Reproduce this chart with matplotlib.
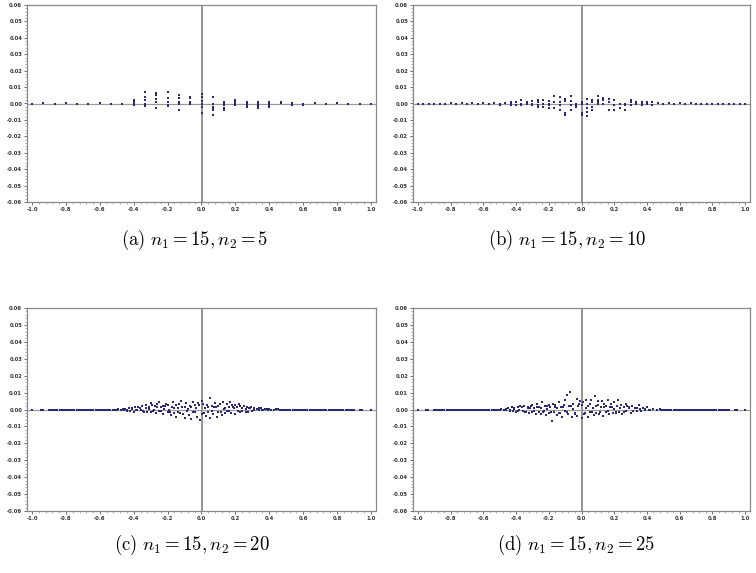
import numpy as np
import matplotlib
matplotlib.use('Agg')
import matplotlib.pyplot as plt
from matplotlib.ticker import MultipleLocator

plt.rcParams['mathtext.fontset'] = 'cm'
plt.rcParams['axes.unicode_minus'] = False

# panel (a): n1=15, n2=5
xa = [-1.0, -0.933, -0.867, -0.8, -0.733, -0.667, -0.6, -0.533, -0.467,
      -0.4, -0.4, -0.4, -0.4,
      -0.333, -0.333, -0.333, -0.333, -0.333, -0.333,
      -0.267, -0.267, -0.267, -0.267, -0.267,
      -0.2, -0.2, -0.2, -0.2, -0.2,
      -0.133, -0.133, -0.133, -0.133, -0.133,
      -0.067, -0.067, -0.067, -0.067,
      0.0, 0.0, 0.0, 0.0, 0.0, 0.0,
      0.067, 0.067, 0.067, 0.067, 0.067, 0.067,
      0.133, 0.133, 0.133, 0.133, 0.133,
      0.2, 0.2, 0.2, 0.2,
      0.267, 0.267, 0.267, 0.267,
      0.333, 0.333, 0.333, 0.333, 0.333,
      0.4, 0.4, 0.4, 0.4,
      0.467, 0.467, 0.533, 0.533, 0.6, 0.6, 0.6,
      0.667, 0.733, 0.8, 0.867, 0.933, 1.0]
ya = [0.0, 0.0003, 0.0, 0.0002, 0.0, -0.0002, 0.0002, 0.0, -0.0002,
      0.0022, 0.0012, 0.0, -0.001,
      0.0072, 0.0042, 0.0022, 0.0, -0.0008, -0.0018,
      0.0062, 0.005, 0.0028, 0.001, -0.0028,
      0.0068, 0.0032, 0.001, -0.0008, -0.0018,
      0.005, 0.0032, 0.0012, 0.0, -0.0042,
      0.0042, 0.0032, 0.0012, 0.0,
      0.0058, 0.0038, 0.0018, 0.0, -0.002, -0.0058,
      0.0042, 0.0, -0.002, -0.003, -0.004, -0.0068,
      0.0012, 0.0, -0.001, -0.0028, -0.0042,
      0.002, 0.0008, 0.0, -0.001,
      0.0012, 0.0, -0.001, -0.002,
      0.001, 0.0, -0.001, -0.002, -0.0028,
      0.001, 0.0, -0.001, -0.002,
      0.0012, 0.0002, 0.0002, -0.0008, 0.0, -0.0008, -0.0012,
      0.0003, 0.0, 0.0002, 0.0, 0.0, 0.0]

# panel (b): n1=15, n2=10
xb = [-1.0, -0.967, -0.933, -0.9, -0.867, -0.833, -0.8, -0.767, -0.733, -0.7,
      -0.667, -0.633, -0.6, -0.567, -0.533,
      -0.5, -0.5, -0.467, -0.433, -0.433, -0.433, -0.4, -0.4,
      -0.367, -0.367, -0.367, -0.333, -0.333, -0.3, -0.3, -0.3,
      -0.267, -0.267, -0.267, -0.267, -0.233, -0.233, -0.233,
      -0.2, -0.2, -0.2, -0.2, -0.167, -0.167, -0.167,
      -0.133, -0.133, -0.133, -0.133, -0.1, -0.1, -0.1, -0.1,
      -0.067, -0.067, -0.067, -0.067, -0.033, -0.033, -0.033,
      0.0, 0.0, 0.0, 0.0, 0.033, 0.033, 0.033, 0.033, 0.033,
      0.067, 0.067, 0.067, 0.067, 0.1, 0.1, 0.1, 0.1,
      0.133, 0.133, 0.133, 0.167, 0.167, 0.167, 0.2, 0.2, 0.2,
      0.233, 0.233, 0.267, 0.267, 0.267, 0.3, 0.3, 0.3,
      0.333, 0.333, 0.367, 0.367, 0.367, 0.4, 0.4, 0.433, 0.433,
      0.467, 0.5, 0.533, 0.567, 0.6, 0.633, 0.667, 0.7, 0.733, 0.767,
      0.8, 0.833, 0.867, 0.9, 0.933, 0.967, 1.0]
yb = [0.0, 0.0, 0.0, 0.0, 0.0, 0.0, 0.0002, 0.0, 0.0002, 0.0,
      0.0002, 0.0, 0.0002, 0.0, 0.0002,
      0.0, -0.001, 0.0003, 0.0012, 0.0, -0.001, 0.001, -0.001,
      0.0022, 0.0, -0.001, 0.001, 0.0, 0.0018, 0.0, -0.001,
      0.0022, 0.001, -0.001, -0.0022, 0.002, 0.0, -0.0022,
      0.0018, 0.0, -0.001, -0.0028, 0.0048, 0.001, -0.0028,
      0.0038, 0.001, -0.001, -0.0042, 0.0028, 0.0018, -0.0058, -0.0068,
      0.0048, 0.0018, -0.001, -0.0038, 0.0, -0.001, -0.002,
      0.001, 0.0, -0.0058, -0.0068, 0.003, 0.0, -0.003, -0.005, -0.0078,
      0.0022, 0.001, -0.002, -0.0038, 0.0048, 0.0022, 0.001, 0.0,
      0.0032, 0.002, 0.0, 0.0028, 0.001, -0.0038, 0.002, -0.001, -0.0038,
      0.0, -0.003, 0.0, -0.001, -0.0042, 0.0022, 0.001, -0.001,
      0.0012, 0.0, 0.0012, 0.0, -0.001, 0.001, 0.0, 0.001, -0.001,
      0.0003, 0.0, 0.0002, 0.0, 0.0002, 0.0, 0.0002, 0.0, 0.0, 0.0,
      0.0, 0.0, 0.0, 0.0, 0.0, 0.0, 0.0]

# panel (c): n1=15, n2=20
xc = [-1.0, -0.95, -0.9, -0.875, -0.85, -0.825, -0.8, -0.775, -0.75, -0.725,
      -0.7, -0.675, -0.65, -0.625, -0.6, -0.575, -0.55, -0.525, -0.5, -0.49,
      -0.475, -0.46, -0.45, -0.44, -0.425, -0.42, -0.41, -0.4, -0.39, -0.38,
      -0.375, -0.36, -0.35, -0.345, -0.33, -0.325, -0.32, -0.31, -0.3, -0.3,
      -0.29, -0.28, -0.275, -0.27, -0.26, -0.25, -0.25, -0.24, -0.23, -0.225,
      -0.22, -0.21, -0.2, -0.2, -0.19, -0.18, -0.175, -0.17, -0.16, -0.15,
      -0.15, -0.14, -0.13, -0.125, -0.12, -0.11, -0.1, -0.1, -0.09, -0.08,
      -0.075, -0.07, -0.06, -0.05, -0.05, -0.04, -0.03, -0.025, -0.02, -0.01,
      0.0, 0.0, 0.01, 0.02, 0.025, 0.03, 0.04, 0.05, 0.05, 0.06,
      0.07, 0.075, 0.08, 0.09, 0.1, 0.1, 0.11, 0.12, 0.125, 0.13,
      0.14, 0.15, 0.15, 0.16, 0.17, 0.175, 0.18, 0.19, 0.2, 0.2,
      0.21, 0.22, 0.225, 0.23, 0.24, 0.25, 0.26, 0.27, 0.275, 0.28,
      0.29, 0.3, 0.31, 0.325, 0.34, 0.35, 0.36, 0.375, 0.39, 0.4,
      0.425, 0.45, 0.475, 0.5, 0.525, 0.55, 0.575, 0.6, 0.625, 0.65,
      0.675, 0.7, 0.725, 0.75, 0.775, 0.8, 0.825, 0.85, 0.875, 0.9,
      0.95, 1.0]
yc = [0.0, 0.0, 0.0, 0.0, 0.0, 0.0, 0.0, 0.0, 0.0, 0.0,
      0.0, 0.0, 0.0, 0.0, 0.0, 0.0, 0.0, 0.0, -0.0002, 0.0003,
      0.0, -0.0005, 0.0005, -0.0003, 0.0008, -0.0008, 0.0002, -0.0012, 0.0012, 0.0,
      0.0015, -0.0005, 0.0018, -0.001, 0.0008, 0.0028, -0.0015, 0.0012, 0.0038, -0.0012,
      0.0025, 0.0, 0.0018, -0.002, 0.0032, 0.0042, -0.0008, 0.0015, -0.0028, 0.0022,
      0.0005, 0.0035, -0.0015, 0.0028, 0.0, -0.0035, 0.0015, 0.0045, -0.0022, 0.0025,
      -0.0042, 0.001, 0.0032, -0.0018, 0.0048, -0.0028, 0.0015, -0.0048, 0.0038, 0.0005,
      -0.0032, 0.0022, -0.0055, 0.0042, -0.0015, 0.0028, 0.0008, -0.0045, 0.0038, -0.0065,
      0.0048, -0.0025, 0.0035, 0.001, -0.0038, 0.0025, -0.0015, 0.0068, -0.0052, 0.0022,
      -0.0028, 0.0012, 0.0038, -0.0045, 0.0022, -0.0012, 0.0032, -0.0032, 0.0045, 0.0005,
      -0.0022, 0.0035, -0.0008, 0.0015, 0.0042, -0.0018, 0.0028, 0.0008, 0.0025, -0.0025,
      0.0012, 0.0032, -0.0012, 0.0018, -0.0008, 0.0022, 0.0005, 0.0012, -0.0015, 0.0008,
      0.0015, -0.0008, 0.0008, 0.0002, -0.0005, 0.0008, -0.0003, 0.0004, 0.0, 0.0003,
      0.0, 0.0002, 0.0, 0.0, 0.0, 0.0, 0.0, 0.0, 0.0, 0.0,
      0.0, 0.0, 0.0, 0.0, 0.0, 0.0, 0.0, 0.0, 0.0, 0.0,
      0.0, 0.0]
# extra near-zero band points in (c)
xc2 = [-0.9375, -0.8875, -0.8625, -0.8375, -0.8125, -0.7875, -0.7625, -0.7375,
       -0.7125, -0.6875, -0.6625, -0.6375, -0.6125, -0.5875, -0.5625, -0.5375,
       -0.5125, -0.4625, -0.4375, -0.4125, -0.3875, -0.3625, -0.3375, -0.3125,
       -0.2875, -0.2625, -0.2375, -0.2125, -0.1875, -0.1625, -0.1375, -0.1125,
       -0.0875, -0.0625, -0.0375, -0.0125, 0.0125, 0.0375, 0.0625, 0.0875,
       0.1125, 0.1375, 0.1625, 0.1875, 0.2125, 0.2375, 0.2625, 0.2875, 0.3125,
       0.3375, 0.3625, 0.3875, 0.4125, 0.4375, 0.4625, 0.4875, 0.5125, 0.5375,
       0.5625, 0.5875, 0.6125, 0.6375, 0.6625, 0.6875, 0.7125, 0.7375, 0.7625,
       0.7875, 0.8125, 0.8375, 0.8625, 0.8875, 0.9375]
yc2 = [0.0, 0.0, 0.0, 0.0, 0.0, 0.0, 0.0, 0.0,
       0.0, 0.0, 0.0, 0.0, 0.0, 0.0, 0.0, 0.0,
       -0.0003, 0.0004, -0.0006, 0.0006, -0.0004, 0.0009, -0.0012, 0.0005,
       -0.0006, 0.0012, -0.0009, 0.0018, -0.0012, 0.0008, -0.0016, 0.0012,
       -0.0008, 0.0016, -0.0012, 0.0028, -0.0018, 0.0012, -0.0008, 0.0016,
       -0.0012, 0.0009, -0.0006, 0.0012, -0.0009, 0.0006, -0.0012, 0.0008, -0.0004,
       0.0006, -0.0005, 0.0004, -0.0002, 0.0003, 0.0, 0.0, 0.0, 0.0,
       0.0, 0.0, 0.0, 0.0, 0.0, 0.0, 0.0, 0.0, 0.0,
       0.0, 0.0, 0.0, 0.0, 0.0, 0.0]

# panel (d): n1=15, n2=25
xd = [-1.0, -0.95, -0.9, -0.875, -0.85, -0.825, -0.8, -0.775, -0.75, -0.725,
      -0.7, -0.675, -0.65, -0.625, -0.6, -0.575, -0.55, -0.525, -0.5, -0.49,
      -0.475, -0.46, -0.45, -0.44, -0.425, -0.42, -0.41, -0.4, -0.39, -0.38,
      -0.375, -0.36, -0.35, -0.345, -0.33, -0.325, -0.32, -0.31, -0.3, -0.3,
      -0.29, -0.28, -0.275, -0.27, -0.26, -0.25, -0.25, -0.24, -0.23, -0.225,
      -0.22, -0.21, -0.2, -0.2, -0.19, -0.18, -0.175, -0.17, -0.16, -0.15,
      -0.15, -0.14, -0.13, -0.125, -0.12, -0.11, -0.1, -0.1, -0.09, -0.08,
      -0.075, -0.07, -0.06, -0.05, -0.05, -0.04, -0.03, -0.025, -0.02, -0.01,
      0.0, 0.0, 0.01, 0.02, 0.025, 0.03, 0.04, 0.05, 0.05, 0.06,
      0.07, 0.075, 0.08, 0.09, 0.1, 0.1, 0.11, 0.12, 0.125, 0.13,
      0.14, 0.15, 0.15, 0.16, 0.17, 0.175, 0.18, 0.19, 0.2, 0.2,
      0.21, 0.22, 0.225, 0.23, 0.24, 0.25, 0.26, 0.27, 0.275, 0.28,
      0.29, 0.3, 0.31, 0.325, 0.34, 0.35, 0.36, 0.375, 0.39, 0.4,
      0.42, 0.44, 0.46, 0.48, 0.5, 0.525, 0.55, 0.575, 0.6, 0.625,
      0.65, 0.675, 0.7, 0.725, 0.75, 0.775, 0.8, 0.825, 0.85, 0.875,
      0.9, 0.95, 1.0]
yd = [0.0, 0.0, 0.0, 0.0, 0.0, 0.0, 0.0, 0.0, 0.0, 0.0,
      0.0, 0.0, 0.0, 0.0, 0.0, 0.0, 0.0, 0.0, -0.0002, 0.0003,
      0.0, -0.0005, 0.0008, -0.0003, 0.0012, -0.0008, 0.0002, -0.0012, 0.0015, 0.0,
      0.0018, -0.0008, 0.0022, -0.0012, 0.0008, 0.0012, -0.0018, 0.0018, 0.0025, -0.0015,
      0.0008, -0.0025, 0.0015, 0.0032, -0.0012, 0.0008, -0.0028, 0.0045, -0.0008, 0.0018,
      -0.0032, 0.0005, 0.0025, -0.0022, 0.0012, -0.0068, 0.0035, -0.0012, 0.0028, -0.0035,
      0.0008, 0.0042, -0.002, 0.0015, -0.0042, 0.0028, 0.0058, -0.001, 0.0088, -0.0028,
      0.0018, 0.0102, -0.0045, 0.0035, 0.0005, -0.0025, 0.0062, -0.0038, 0.0022, 0.0048,
      -0.0052, 0.0025, 0.0042, -0.0018, 0.0058, 0.001, -0.0042, 0.0032, -0.0015, 0.0055,
      0.0008, -0.0035, 0.0078, -0.0022, 0.0025, 0.0048, -0.0028, 0.0012, 0.0052, -0.0038,
      0.0035, -0.0012, 0.0022, 0.0058, -0.0025, 0.0012, 0.0032, -0.0018, 0.0042, 0.0005,
      -0.0022, 0.0018, 0.0055, -0.0012, 0.0028, -0.0028, 0.0012, 0.0035, -0.0008, 0.0018,
      0.0008, -0.0018, 0.0022, 0.0008, -0.0008, 0.0025, 0.0002, 0.0008, -0.0005, 0.0012,
      -0.0003, 0.0005, 0.0, 0.0003, 0.0, 0.0, 0.0, 0.0, 0.0, 0.0,
      0.0, 0.0, 0.0, 0.0, 0.0, 0.0, 0.0, 0.0, 0.0, 0.0,
      0.0, 0.0, 0.0]
# extra near-zero band points in (d)
xd2 = [-0.9375, -0.8875, -0.8625, -0.8375, -0.8125, -0.7875, -0.7625, -0.7375,
       -0.7125, -0.6875, -0.6625, -0.6375, -0.6125, -0.5875, -0.5625, -0.5375,
       -0.5125, -0.4625, -0.4375, -0.4125, -0.3875, -0.3625, -0.3375, -0.3125,
       -0.2875, -0.2625, -0.2375, -0.2125, -0.1875, -0.1625, -0.1375, -0.1125,
       -0.0875, -0.0625, -0.0375, -0.0125, 0.0125, 0.0375, 0.0625, 0.0875,
       0.1125, 0.1375, 0.1625, 0.1875, 0.2125, 0.2375, 0.2625, 0.2875, 0.3125,
       0.3375, 0.3625, 0.3875, 0.4125, 0.4375, 0.4625, 0.4875, 0.5125, 0.5375,
       0.5625, 0.5875, 0.6125, 0.6375, 0.6625, 0.6875, 0.7125, 0.7375, 0.7625,
       0.7875, 0.8125, 0.8375, 0.8625, 0.8875, 0.9375]
yd2 = [0.0, 0.0, 0.0, 0.0, 0.0, 0.0, 0.0, 0.0,
       0.0, 0.0, 0.0, 0.0, 0.0, 0.0, 0.0, 0.0,
       -0.0004, 0.0005, -0.0008, 0.0009, -0.0006, 0.0012, -0.0015, 0.0008,
       -0.0009, 0.0015, -0.0012, 0.0022, -0.0016, 0.0012, -0.002, 0.0015,
       -0.0012, 0.0022, -0.0018, 0.0032, -0.0025, 0.0018, -0.0012, 0.0022,
       -0.0016, 0.0012, -0.0009, 0.0016, -0.0012, 0.0009, -0.0015, 0.0012, -0.0006,
       0.0008, -0.0006, 0.0005, -0.0003, 0.0004, 0.0, 0.0, 0.0, 0.0,
       0.0, 0.0, 0.0, 0.0, 0.0, 0.0, 0.0, 0.0, 0.0,
       0.0, 0.0, 0.0, 0.0, 0.0, 0.0]

captions = [r'$\mathrm{(a)}\ n_1 = 15, n_2 = 5$',
            r'$\mathrm{(b)}\ n_1 = 15, n_2 = 10$',
            r'$\mathrm{(c)}\ n_1 = 15, n_2 = 20$',
            r'$\mathrm{(d)}\ n_1 = 15, n_2 = 25$']

W, H = 756, 573
fig = plt.figure(figsize=(W / 100, H / 100), dpi=100)

# axes boxes in pixels: left, top, right, bottom
boxes = [(27, 5, 376, 202), (413, 5, 750, 202),
         (27, 308, 376, 511), (413, 308, 750, 511)]
cap_pos = [(195, 240), (567, 240), (192, 545), (576, 545)]
data = [(xa, ya), (xb, yb), (xc + xc2, yc + yc2), (xd + xd2, yd + yd2)]

xt = np.arange(-1.0, 1.01, 0.2)
yt = np.arange(-0.06, 0.061, 0.01)

for (l, t, r, b), (x, y), cap, (cx, cy) in zip(boxes, data, captions, cap_pos):
    ax = fig.add_axes([l / W, 1 - b / H, (r - l) / W, (b - t) / H])
    ax.axvline(0, color='#8a8a8a', lw=1.3, zorder=1)
    ax.axhline(0, color='#9a9a9a', lw=0.9, zorder=1)
    ax.scatter(x, y, s=4, color='#2a2a72', marker='s', linewidths=0, zorder=3)
    ax.set_xlim(-1.03, 1.03)
    ax.set_ylim(-0.06, 0.06)
    ax.set_xticks(xt)
    ax.set_yticks(yt)
    ax.xaxis.set_minor_locator(MultipleLocator(0.04))
    ax.yaxis.set_minor_locator(MultipleLocator(0.002))
    ax.set_xticklabels(['%.1f' % (v + 0.0) for v in np.round(xt, 1)])
    ax.set_yticklabels(['%.2f' % (v + 0.0) for v in np.round(yt, 2)])
    ax.tick_params(which='major', length=2, width=0.6, labelsize=3.8,
                   colors='#555555', pad=1.5)
    ax.tick_params(which='minor', length=1.2, width=0.4, colors='#777777')
    for lab in ax.get_xticklabels() + ax.get_yticklabels():
        lab.set_fontweight('bold')
        lab.set_color('#333333')
    for s in ax.spines.values():
        s.set_color('#888888')
        s.set_linewidth(0.9)
    fig.text(cx / W, 1 - cy / H, cap, ha='center', va='center', fontsize=13.5)

fig.savefig('out.png', dpi=100)
